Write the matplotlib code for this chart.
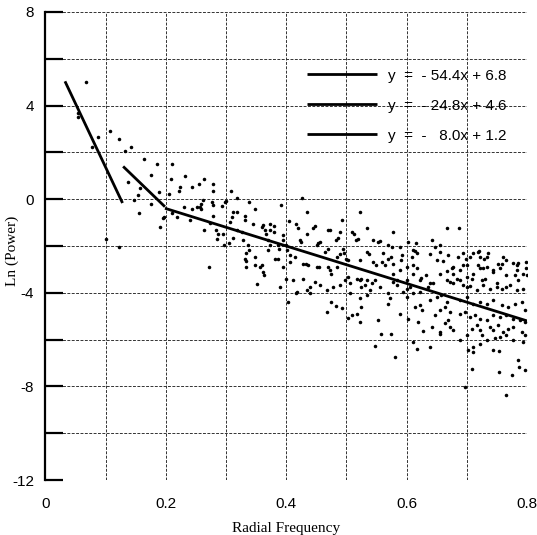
import numpy
import matplotlib
matplotlib.use('Agg')
import matplotlib.pyplot

matplotlib.pyplot.rcParams['axes.unicode_minus'] = False

# scatter points (radial frequency, ln power)
pts_low = [(0.0673,4.99),(0.0535,3.69),(0.0535,3.52),(0.0877,2.64),(0.0767,2.24),(0.108,2.92),(0.1216,2.56),
    (0.1316,2.06),(0.142,2.24),(0.1636,1.70),(0.185,1.52),(0.2096,1.52),(0.1376,0.74),(0.1757,1.05),(0.157,0.48),
    (0.1537,0.20),(0.1476,-0.04),(0.1558,-0.57),(0.1757,-0.21),(0.189,0.31),(0.2085,0.88),(0.231,0.98),(0.2234,0.53),
    (0.222,0.35),(0.243,0.53),(0.255,0.64),(0.263,0.88),(0.2057,0.24),(0.230,-0.33),(0.243,-0.40),(0.251,-0.33),
    (0.259,-0.21),(0.259,-0.40),(0.197,-0.78),(0.2096,-0.58),(0.218,-0.78),(0.1226,-2.05),(0.1005,-1.68),(0.190,-1.18),
    (0.1957,-0.82),(0.240,-0.90)]

pts_mid = [(0.2777,0.63),(0.2787,0.35),(0.309,0.35),(0.261,-0.04),(0.2566,-0.33),(0.2787,-0.26),(0.298,-0.12),
    (0.3176,0.03),(0.3385,-0.14),(0.348,-0.40),(0.312,-0.54),(0.310,-0.76),(0.3176,-1.32),(0.284,-1.32),(0.287,-1.47),
    (0.285,-1.68),(0.297,-1.94),(0.305,-1.89),(0.3065,-0.97),(0.326,-1.40),(0.3276,-1.75),(0.331,-0.90),(0.337,-1.97),
    (0.338,-2.15),(0.331,-2.54),(0.334,-2.89),(0.348,-2.82),(0.359,-1.18),(0.3646,-1.32),(0.367,-1.47),(0.272,-2.89),
    (0.263,-1.30),(0.273,-1.01),(0.3326,-2.64),(0.356,-2.89),(0.362,-3.11),(0.363,-3.25),(0.352,-3.63),
    (0.276,-0.12),(0.2927,-0.30),(0.300,-0.07),(0.392,-0.23),(0.2787,-0.71),(0.3186,-0.54),(0.331,-0.73),(0.345,-1.04),
    (0.362,-1.11),(0.373,-1.07),(0.373,-1.32),(0.3796,-1.15),(0.3796,-1.40),(0.394,-1.54),(0.394,-1.75),(0.2953,-1.47),
    (0.311,-1.64),(0.334,-2.32),(0.348,-2.46),(0.359,-2.82),(0.370,-1.75),(0.370,-2.18),(0.373,-1.97),(0.381,-2.54),
    (0.3867,-2.54),(0.3867,-1.97),(0.388,-2.11),(0.395,-2.89),(0.3895,-3.75)]

pts_upper = [(0.4256,0.03),(0.434,-0.54),(0.405,-0.93),(0.416,-1.07),(0.4199,-1.25),(0.434,-1.47),(0.445,-1.25),
    (0.4477,-1.15),(0.470,-1.30),(0.4726,-1.30),(0.492,-0.90),(0.489,-1.40),(0.4854,-1.64),(0.4826,-1.75),(0.5086,-1.40),
    (0.5125,-1.47),(0.400,-1.97),(0.4016,-2.18),(0.406,-2.39),(0.4145,-2.49),(0.4228,-1.75),(0.4244,-1.82),(0.433,-2.75),
    (0.4365,-2.82),(0.453,-1.89),(0.456,-1.82),(0.4505,-1.97),(0.4505,-2.89),(0.455,-2.89),(0.469,-2.89),(0.470,-2.11),
    (0.464,-2.25),(0.4837,-2.46),(0.489,-2.35),(0.4947,-2.11),(0.4958,-2.32),(0.500,-2.54),(0.503,-2.61),(0.4837,-2.89),
    (0.522,-2.61),(0.5224,-0.54),(0.5346,-1.25),(0.5778,-1.40),(0.5158,-1.75),(0.5196,-1.68),(0.5445,-1.75),(0.553,-1.82),
    (0.5694,-1.97),(0.575,-2.04),(0.5557,-1.78),(0.561,-2.29),(0.5346,-2.25),(0.538,-2.35),(0.5445,-2.68),(0.550,-2.82),
    (0.5585,-2.68),(0.564,-2.82),(0.5694,-2.54),(0.5734,-2.46),(0.5889,-2.04),(0.5917,-2.39),(0.59,-2.61),
    (0.406,-2.68),(0.428,-2.75),(0.4726,-3.03),(0.475,-3.18),(0.428,-3.39),(0.4477,-3.53),(0.456,-3.68),(0.4394,-3.75),
    (0.467,-3.89),(0.478,-3.75),(0.489,-3.68),(0.4977,-3.46),(0.503,-3.32),(0.506,-3.60),(0.517,-3.39),(0.522,-3.46),
    (0.531,-3.68),(0.5389,-3.89),(0.403,-4.39),(0.416,-4.03),(0.467,-4.84),(0.474,-4.39),(0.4826,-4.57),(0.492,-4.63),
    (0.503,-5.06),(0.5086,-4.96),(0.517,-4.91),(0.5224,-5.24),(0.553,-5.17),(0.5474,-6.28),(0.5568,-5.77),(0.574,-5.77),
    (0.5806,-6.74),(0.5694,-4.46),(0.5723,-4.24),(0.5685,-4.03),(0.5778,-3.53),(0.5834,-3.68),(0.5944,-3.96),
    (0.5778,-3.18),(0.5834,-3.46),(0.525,-3.39),(0.5335,-3.46),(0.5418,-3.60),(0.525,-3.75),(0.5474,-3.46),(0.5557,-3.75),
    (0.5778,-2.75),(0.5889,-3.03),(0.5889,-4.89),(0.506,-4.03),(0.5224,-4.24),(0.5335,-4.10),(0.4394,-4.03),(0.434,-3.89),
    (0.4173,-3.96),(0.400,-3.39),(0.411,-3.46),(0.5236,-4.60)]

pts_high = [(0.6664,-1.25),(0.687,-1.25),(0.6027,-1.82),(0.611,-2.18),(0.6155,-1.89),(0.6166,-2.32),(0.6415,-1.75),
    (0.647,-2.04),(0.6553,-1.97),(0.6553,-2.25),(0.669,-2.39),(0.694,-2.32),(0.6985,-2.54),(0.705,-2.46),(0.719,-2.25),
    (0.722,-2.46),(0.733,-2.46),(0.7355,-2.32),(0.758,-2.75),(0.766,-2.61),(0.7827,-2.82),(0.7854,-2.72),
    (0.6083,-2.46),(0.6138,-2.22),(0.611,-2.82),(0.6166,-2.96),(0.6238,-3.36),(0.6387,-2.36),(0.6508,-2.61),
    (0.6608,-2.65),(0.6664,-3.06),(0.6747,-2.96),(0.6774,-3.18),(0.683,-3.39),(0.6885,-3.46),(0.6857,-2.49),(0.694,-2.82),
    (0.6996,-3.32),(0.708,-3.39),(0.7106,-2.29),(0.720,-2.22),(0.722,-2.92),(0.7265,-2.96),(0.719,-2.82),(0.7284,-2.56),
    (0.743,-3.03),(0.752,-2.79),(0.7595,-2.46),(0.777,-2.72),(0.7827,-3.03),(0.78,-3.25),(0.7854,-3.46),(0.798,-2.68),
    (0.798,-2.96),(0.7995,-3.25),(0.730,-3.39),(0.7245,-3.46),(0.7495,-3.75),(0.758,-3.82),(0.766,-3.77),(0.672,-3.53),
    (0.677,-3.60),(0.6996,-3.75),(0.705,-3.72),(0.600,-3.46),(0.6055,-3.75),(0.633,-3.25),(0.6387,-3.60),(0.636,-3.75),
    (0.600,-3.82),(0.6138,-4.60),(0.622,-4.53),(0.6249,-4.74),(0.619,-5.24),(0.6276,-5.63),(0.611,-6.10),(0.6166,-6.42),
    (0.6387,-6.31),(0.6415,-5.46),(0.6553,-5.67),(0.6636,-5.31),(0.669,-5.17),(0.672,-5.46),(0.677,-5.60),(0.647,-4.96),
    (0.6553,-4.74),(0.6636,-4.60),(0.672,-4.82),(0.6387,-4.32),(0.650,-4.17),(0.658,-4.10),(0.6664,-4.39),(0.6885,-6.03),
    (0.702,-6.45),(0.708,-7.24),(0.697,-8.02),(0.7106,-6.31),(0.722,-6.17),(0.7245,-5.81),(0.733,-6.03),(0.744,-6.45),
    (0.754,-6.48),(0.754,-7.38),(0.7745,-7.52),(0.765,-8.38),(0.7854,-6.88),(0.787,-7.17),(0.7965,-7.31),(0.777,-6.03),
    (0.7937,-6.10),(0.766,-5.81),(0.755,-5.88),(0.7467,-5.95),(0.738,-5.46),(0.744,-5.60),(0.752,-5.38),(0.7605,-5.67),
    (0.769,-5.53),(0.777,-5.46),(0.791,-5.67),(0.7965,-5.81),(0.7163,-5.38),(0.722,-5.60),(0.708,-5.53),(0.6996,-5.81),
    (0.6885,-4.89),(0.697,-4.82),(0.705,-5.03),(0.7135,-4.96),(0.722,-5.10),(0.733,-5.17),(0.744,-4.96),(0.755,-5.03),
    (0.766,-4.96),(0.777,-5.10),(0.788,-5.17),(0.7965,-5.24),(0.6885,-4.32),(0.6996,-4.17),(0.7106,-4.46),(0.722,-4.39),
    (0.733,-4.46),(0.744,-4.32),(0.758,-4.53),(0.769,-4.60),(0.78,-4.46),(0.791,-4.39),(0.7965,-4.74),(0.694,-3.68),
    (0.7163,-3.89),(0.727,-3.68),(0.738,-3.82),(0.7495,-3.60),(0.7716,-3.68),(0.7827,-3.89),(0.7937,-3.82),(0.677,-2.89),
    (0.6885,-3.03),(0.6996,-2.82),(0.7106,-3.18),(0.733,-2.89),(0.744,-3.11),(0.755,-2.96),(0.766,-3.25),(0.7937,-3.18),
    (0.600,-2.89),(0.611,-3.18),(0.622,-3.46),(0.644,-3.60),(0.6553,-3.18),(0.6664,-3.46),(0.600,-4.17),(0.611,-4.03),
    (0.622,-3.96),(0.6027,-5.10),(0.6553,-5.78),(0.7106,-6.52)]

# fitted segments: y = slope*x + intercept over [x_start, x_end]
fit_slope = [-54.4, -24.8, -8.0]
fit_icpt = [6.8, 4.6, 1.2]
fit_x0 = [0.0324, 0.129, 0.1985]
fit_x1 = [0.128, 0.1985, 0.8]
fit_labels = ['y  =  - 54.4x + 6.8', 'y  =  - 24.8x + 4.6', 'y  =  -   8.0x + 1.2']

pts = numpy.array(pts_low + pts_mid + pts_upper + pts_high)

fig = matplotlib.pyplot.figure(figsize = (5.37, 5.35), dpi = 100)
ax = fig.add_axes([0.0847, 0.1028, 0.8966, 0.8748])

ax.scatter(pts[:,0], pts[:,1], s = 6.5, c = 'black', linewidths = 0, zorder = 3)

hands = []
for i in range(3):
    xs = numpy.array([fit_x0[i], fit_x1[i]])
    ln, = ax.plot(xs, fit_slope[i]*xs + fit_icpt[i], c = 'black', lw = 2, zorder = 4, solid_capstyle = 'butt')
    hands.append(ln)

ax.set(xlim = (0, 0.8), ylim = (-12, 8))
ax.set_xticks([0, 0.2, 0.4, 0.6, 0.8])
ax.set_xticklabels(['0', '0.2', '0.4', '0.6', '0.8'])
ax.set_xticks(numpy.arange(0, 0.81, 0.1), minor = True)
ax.set_yticks([-12, -8, -4, 0, 4, 8])
ax.set_yticks(numpy.arange(-12, 8.1, 2), minor = True)

for s in ['top', 'right', 'bottom']:
    ax.spines[s].set_visible(False)
ax.spines['left'].set_linewidth(1.6)

ax.grid(which = 'both', color = '#333333', ls = (0, (3, 1.5)), lw = 0.7)
ax.set_axisbelow(True)

ax.tick_params(axis = 'y', which = 'both', direction = 'in', length = 13, width = 1.6, pad = 8, labelsize = 11)
ax.tick_params(axis = 'x', which = 'both', length = 0, pad = 12, labelsize = 11)
for t in ax.get_xticklabels() + ax.get_yticklabels():
    t.set_fontfamily('Liberation Sans')

ax.set_xlabel('Radial Frequency', family = 'Liberation Serif', fontsize = 11, labelpad = 8)
ax.set_ylabel('Ln (Power)', family = 'Liberation Serif', fontsize = 11)
ax.yaxis.set_label_coords(-0.055, 0.49)

ax.legend(hands, fit_labels, loc = 'upper left', bbox_to_anchor = (0.543, 0.879), frameon = False,
          handlelength = 4.6, handletextpad = 0.7, labelspacing = 1.05, borderpad = 0, borderaxespad = 0,
          prop = {'family': 'Liberation Sans', 'size': 11})

fig.savefig('out.png')
